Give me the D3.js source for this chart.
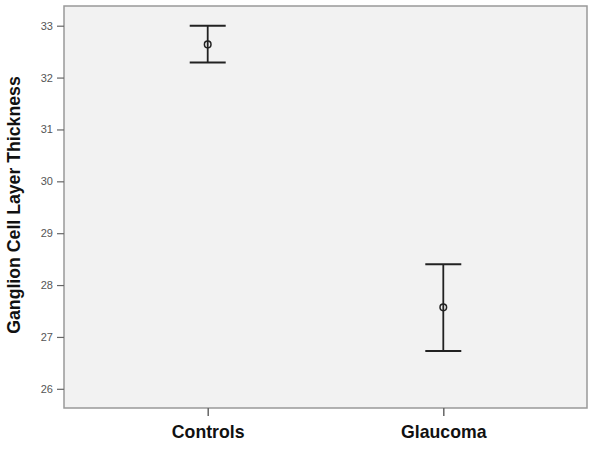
<!DOCTYPE html>
<html>
<head>
	<title>GCL thickness</title>
	<script src="https://d3js.org/d3.v7.min.js"></script>
	<style type="text/css">
		body { margin: 0; background: #fff; }
		text { font-family: "Liberation Sans", Arial, sans-serif; }
	</style>
</head>
<body>
<div id="svg"></div>
<script type="text/javascript">

	var groups = ["Controls", "Glaucoma"];
	var means = [32.64, 27.57];
	var lower = [32.29, 26.73];
	var upper = [33.00, 28.40];
	var yTicks = [26, 27, 28, 29, 30, 31, 32, 33];

	var width = 596,
	    height = 453;

	var plot = {left: 64, right: 587, top: 6, bottom: 408};

	var svg = d3.select("#svg")
	    .append("svg")
	    .attr("width", width)
	    .attr("height", height);

	var xScale = d3.scalePoint()
	    .domain(groups)
	    .range([plot.left, plot.right])
	    .padding(0.61);

	var yScale = d3.scaleLinear()
	    .domain([25.63, 33.38])
	    .range([plot.bottom, plot.top]);

	// panel
	svg.append("rect")
	    .attr("x", plot.left)
	    .attr("y", plot.top)
	    .attr("width", plot.right - plot.left)
	    .attr("height", plot.bottom - plot.top)
	    .attr("fill", "#f2f2f2")
	    .attr("stroke", "#999")
	    .attr("stroke-width", 1.5);

	var yAxis = d3.axisLeft(yScale)
	    .tickValues(yTicks)
	    .tickSize(7)
	    .tickPadding(4);

	var gY = svg.append("g")
	    .attr("transform", "translate(" + plot.left + ",0)")
	    .call(yAxis);
	gY.select(".domain").remove();
	gY.selectAll("line").attr("stroke", "#666").attr("stroke-width", 1.2);
	gY.selectAll("text")
	    .attr("fill", "#555")
	    .style("font-size", "11px")
	    .style("font-family", "'Liberation Sans', Arial, sans-serif");

	var xAxis = d3.axisBottom(xScale)
	    .tickSize(8)
	    .tickPadding(9);

	var gX = svg.append("g")
	    .attr("transform", "translate(0," + plot.bottom + ")")
	    .call(xAxis);
	gX.select(".domain").remove();
	gX.selectAll("line").attr("stroke", "#666").attr("stroke-width", 1.5);
	gX.selectAll("text")
	    .attr("fill", "#111")
	    .style("font-size", "17.7px")
	    .style("font-weight", "bold")
	    .style("font-family", "'Liberation Sans', Arial, sans-serif");

	// y title
	svg.append("text")
	    .attr("transform", "translate(20,205) rotate(-90)")
	    .attr("text-anchor", "middle")
	    .attr("fill", "#111")
	    .style("font-size", "17.7px")
	    .style("font-weight", "bold")
	    .text("Ganglion Cell Layer Thickness");

	// error bars
	var capHalf = 18;
	var bars = svg.selectAll(".err")
	    .data(groups)
	    .enter()
	    .append("g")
	    .attr("class", "err")
	    .attr("stroke", "#222");

	bars.append("line")
	    .attr("x1", d => xScale(d))
	    .attr("x2", d => xScale(d))
	    .attr("y1", (d, i) => yScale(upper[i]))
	    .attr("y2", (d, i) => yScale(lower[i]))
	    .attr("stroke-width", 1.8);

	bars.append("line")
	    .attr("x1", d => xScale(d) - capHalf)
	    .attr("x2", d => xScale(d) + capHalf)
	    .attr("y1", (d, i) => yScale(upper[i]))
	    .attr("y2", (d, i) => yScale(upper[i]))
	    .attr("stroke-width", 2);

	bars.append("line")
	    .attr("x1", d => xScale(d) - capHalf)
	    .attr("x2", d => xScale(d) + capHalf)
	    .attr("y1", (d, i) => yScale(lower[i]))
	    .attr("y2", (d, i) => yScale(lower[i]))
	    .attr("stroke-width", 2);

	bars.append("circle")
	    .attr("cx", d => xScale(d))
	    .attr("cy", (d, i) => yScale(means[i]))
	    .attr("r", 3.3)
	    .attr("fill", "none")
	    .attr("stroke-width", 1.5);

</script>
</body>
</html>
